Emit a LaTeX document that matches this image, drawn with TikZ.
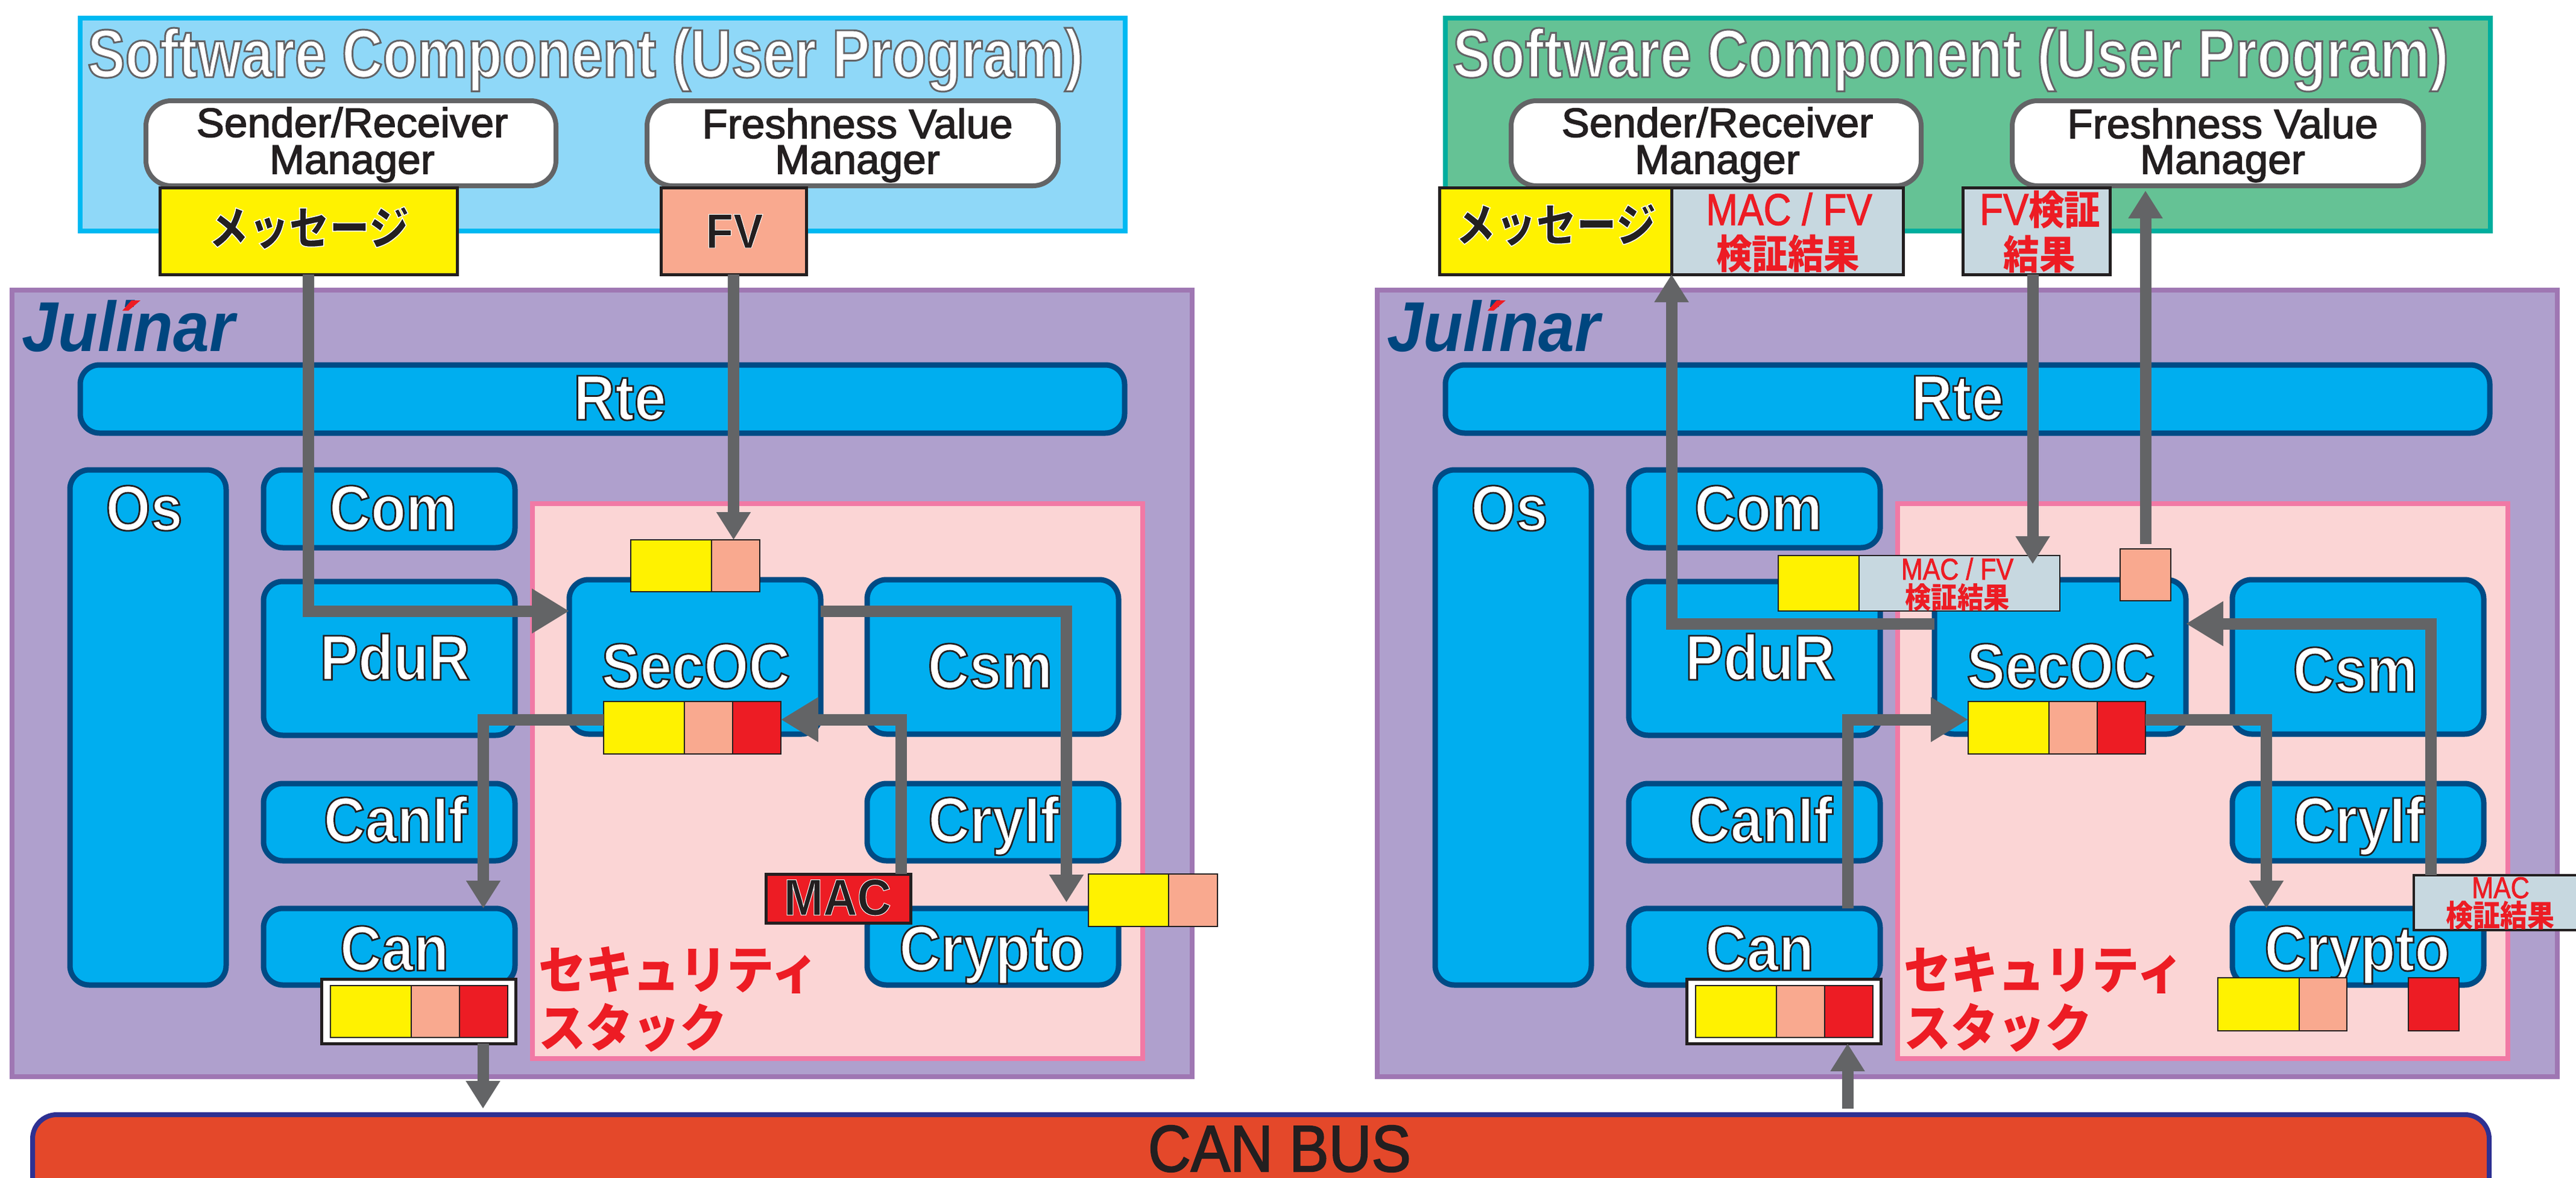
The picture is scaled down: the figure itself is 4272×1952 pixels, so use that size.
\documentclass[tikz,border=0pt]{standalone}
\usepackage{fontspec}
\usetikzlibrary{arrows.meta,calc}
\newfontfamily\sfo[FakeStretch=0.83,FakeBold=2.6]{Liberation Sans Bold}
\newfontfamily\sfmod[FakeStretch=0.9,FakeBold=2.6]{Liberation Sans Bold}
\newfontfamily\sfk[FakeStretch=0.92,FakeBold=1.2]{Liberation Sans Bold}
\newfontfamily\sfb[FakeStretch=1.02,FakeBold=2.2]{Liberation Sans}
\newfontfamily\sfbus[FakeStretch=0.9,FakeBold=2]{Liberation Sans}
\newfontfamily\sfr[FakeStretch=0.86,FakeBold=1.5]{Liberation Sans}
\newfontfamily\logof[FakeStretch=0.92]{Liberation Sans}
\newfontfamily\cjk[FakeStretch=0.9]{Noto Sans CJK JP}
\newfontfamily\cjks[FakeStretch=0.92]{Noto Sans CJK JP}
\newfontfamily\cjko[FakeStretch=0.88,FakeBold=2]{Noto Sans CJK JP}
\definecolor{swfillL}{HTML}{8FD8F8}
\definecolor{swlineL}{HTML}{00B9F2}
\definecolor{swfillR}{HTML}{65C295}
\definecolor{swlineR}{HTML}{00AE9E}
\definecolor{julfill}{HTML}{AFA0CD}
\definecolor{julline}{HTML}{9F77B3}
\definecolor{modfill}{HTML}{00AEEF}
\definecolor{modline}{HTML}{004B85}
\definecolor{secfill}{HTML}{FBD5D5}
\definecolor{secline}{HTML}{F179A5}
\definecolor{mgrline}{HTML}{636466}
\definecolor{ink}{HTML}{231F20}
\definecolor{msgy}{HTML}{FFF200}
\definecolor{fvs}{HTML}{F9A98F}
\definecolor{macr}{HTML}{ED1C24}
\definecolor{resg}{HTML}{C7D8E0}
\definecolor{busf}{HTML}{E4482A}
\definecolor{busl}{HTML}{2E3192}
\definecolor{logob}{HTML}{00467F}
\definecolor{arrowg}{HTML}{636466}
% outlined text: fill colour, stroke colour (rgb triples), text; the fake-bold fonts stroke their glyphs
\newcommand{\fs}[3]{\special{pdf:bcolor [#1] [#2]}#3\special{pdf:ecolor}}
\newcommand{\whitedark}[1]{\fs{1 1 1}{.137 .122 .125}{#1}}
\newcommand{\whitegrey}[1]{\fs{1 1 1}{.39 .39 .40}{#1}}
\newcommand{\darkwhite}[1]{\fs{.137 .122 .125}{1 1 1}{#1}}
\newcommand{\rbx}[6]{\node[#1,minimum width={((#5)-(#3))*1pt},minimum height={((#6)-(#4))*1pt}] (#2) at ({((#3)+(#5))/2},{((#4)+(#6))/2}) {};}
\tikzset{
  plainbox/.style={inner sep=0pt,outer sep=0pt,rectangle},
  swbox/.style={plainbox,draw=#1,line width=8pt},
  julbox/.style={plainbox,draw=julline,fill=julfill,line width=8pt},
  secbox/.style={plainbox,draw=secline,fill=secfill,line width=8pt},
  modbox/.style={plainbox,draw=modline,fill=modfill,line width=9pt,rounded corners=32pt},
  mgrbox/.style={plainbox,draw=mgrline,fill=white,line width=8pt,rounded corners=42pt},
  msgbox/.style={plainbox,draw=ink,line width=5pt},
  segbox/.style={plainbox,draw=ink,line width=2.5pt},
  txt/.style={inner sep=0pt,outer sep=0pt,anchor=base},
  mid/.style={inner sep=0pt,outer sep=0pt,anchor=center},
  modtxt/.style={txt,font=\sfmod\fontsize{106}{106}\selectfont},
  mgrtxt/.style={txt,text=ink,font=\sfb\fontsize{68}{68}\selectfont},
  arrowv/.style={draw=arrowg,line width=19pt,miter limit=10,-{Triangle[length=46pt,width=54pt]}},
  arrowh/.style={draw=arrowg,line width=19pt,miter limit=10,-{Triangle[length=62pt,width=70pt]}},
}
\newcommand{\mtxt}[4]{\node[modtxt] (#1) at (#2,#3) {\whitedark{#4}};}
\newcommand{\threeseg}[4]{% name, x, y1, y2 : standard three-colour message
 \rbx{segbox,fill=msgy}{#1a}{#2}{#3}{#2+134}{#4}
 \rbx{segbox,fill=fvs}{#1b}{#2+134}{#3}{#2+214}{#4}
 \rbx{segbox,fill=macr}{#1c}{#2+214}{#3}{#2+294}{#4}}
\newcommand{\panelbase}[3]{%
 \rbx{swbox=swline#1,fill=swfill#1}{sw#1}{133}{30}{1866}{383}
 \node[txt,font=\sfo\fontsize{113}{113}\selectfont] (title#1) at (971,128) {\whitegrey{Software Component (User Program)}};
 \rbx{mgrbox}{snd#1}{242}{167}{922}{308}
 \rbx{mgrbox}{fvm#1}{1073}{167}{1755}{308}
 \node[mgrtxt] (sndta#1) at (584,227) {Sender/Receiver};
 \node[mgrtxt] (sndtb#1) at (584,288) {Manager};
 \node[mgrtxt] (fvmta#1) at (1422,229) {Freshness Value};
 \node[mgrtxt] (fvmtb#1) at (1422,288) {Manager};
 \rbx{julbox}{jul#1}{20}{481}{1977}{1785}
 \node[txt,text=logob,font=\logof\bfseries\itshape\fontsize{117}{117}\selectfont] (logo#1) at (213,582) {Julinar};
 \fill[macr] (203,515) -- (218,498) -- (233,498) -- (213,515) -- cycle;
 \rbx{modbox}{rte#1}{133}{605}{1865}{718}
 \rbx{modbox}{os#1}{116}{779}{375}{1633}
 \rbx{modbox}{com#1}{437}{779}{854}{908}
 \rbx{modbox}{pdur#1}{437}{964}{854}{1219}
 \rbx{modbox}{canif#1}{437}{1299}{854}{1427}
 \rbx{modbox}{can#1}{437}{1506}{854}{1633}
 \rbx{secbox}{sec#1}{883}{835}{1895}{1755}
 \rbx{modbox}{secoc#1}{944}{961}{1361}{1217}
 \rbx{modbox}{csm#1}{1438}{961}{1855}{1217}
 \rbx{modbox}{cryif#1}{1438}{1299}{1855}{1427}
 \rbx{modbox}{crypto#1}{1438}{1506}{1855}{1633}
 \mtxt{rtet#1}{#2}{696}{Rte}
 \mtxt{ost#1}{239}{879}{Os}
 \mtxt{comt#1}{652}{879}{Com}
 \mtxt{pdurt#1}{655}{1127}{PduR}
 \mtxt{secoct#1}{1154}{1141}{SecOC}
 \mtxt{csmt#1}{1642}{#3}{Csm}
 \mtxt{caniftt#1}{656}{1396}{CanIf}
 \mtxt{cryift#1}{1648}{1396}{CryIf}
 \mtxt{cant#1}{654}{1609}{Can}
 \mtxt{cryptot#1}{1645}{1609}{Crypto}
 \node[mid,anchor=west,text=macr,font=\cjks\bfseries\fontsize{85}{85}\selectfont] (stka#1) at (893,1608) {セキュリティ};
 \node[mid,anchor=west,text=macr,font=\cjks\bfseries\fontsize{85}{85}\selectfont] (stkb#1) at (893,1704) {スタック};
 \rbx{plainbox,draw=ink,line width=5pt,fill=white}{canbx#1}{533}{1623}{855}{1730}
 \threeseg{cs#1}{548}{1634}{1720}
}
\begin{document}
\begin{tikzpicture}[x=1pt,y=-1pt]
\path[use as bounding box,clip] (0,0) rectangle (4272,1952);
\fill[white] (0,0) rectangle (4272,1952);
% ---------- left panel
\begin{scope}
\panelbase{L}{1028}{1141}
\rbx{msgbox,fill=msgy}{msgL}{265}{311}{758}{455}
\node[mid,font=\cjko\bfseries\fontsize{76}{76}\selectfont] (msgtL) at (512,378) {\darkwhite{メッセージ}};
\rbx{msgbox,fill=fvs}{fvL}{1096}{311}{1337}{455}
\node[txt,text=ink,font=\sfk\fontsize{81}{81}\selectfont] (fvtL) at (1218,411) {\darkwhite{FV}};
\rbx{segbox,fill=msgy}{tsaL}{1046}{895}{1180}{981}
\rbx{segbox,fill=fvs}{tsbL}{1180}{895}{1260}{981}
\threeseg{msL}{1001}{1163}{1250}
\rbx{msgbox,fill=macr}{macL}{1270}{1449}{1510}{1530}
\node[txt,font=\sfk\fontsize{85}{85}\selectfont] (mactL) at (1389,1517) {\darkwhite{MAC}};
\rbx{segbox,fill=msgy}{oaL}{1805}{1449}{1938}{1536}
\rbx{segbox,fill=fvs}{obL}{1938}{1449}{2019}{1536}
\coordinate (gapbusL) at (801,1838);
\draw[arrowh] (msgL.south) |- ([yshift=76pt]secocL.west);
\draw[arrowv] (fvL.south) -- (fvL.south |- tsbL.north);
\draw[arrowv] ([yshift=13.5pt]msLa.west) -| ([xshift=156pt]canL.north);
\draw[arrowh] ([xshift=-16pt]macL.north east) |- ([yshift=13.5pt]msLc.east);
\draw[arrowv] ([yshift=76pt]secocL.east) -| ([xshift=122pt,yshift=10pt]cryptoL.north);
\draw[arrowv] (canbxL.south -| gapbusL) -- (gapbusL);
\end{scope}
% ---------- right panel
\begin{scope}[xshift=2264pt]
\panelbase{R}{982}{1147}
\threeseg{msR}{1000}{1163}{1250}
\rbx{segbox,fill=msgy}{oaR}{1414}{1621}{1549}{1709}
\rbx{segbox,fill=fvs}{obR}{1549}{1621}{1628}{1709}
\rbx{segbox,fill=macr}{ocR}{1730}{1621}{1814}{1709}
\rbx{msgbox,fill=msgy}{msgR}{123}{311}{508}{455}
\rbx{msgbox,fill=resg}{resR}{508}{311}{892}{455}
\node[mid,font=\cjko\bfseries\fontsize{76}{76}\selectfont] (msgtR) at (316,373) {\darkwhite{メッセージ}};
\node[txt,text=macr,font=\sfr\fontsize{74}{74}\selectfont] (restaR) at (703,373) {MAC / FV};
\node[mid,text=macr,font=\cjk\bfseries\fontsize{66}{66}\selectfont] (restbR) at (701,421) {検証結果};
\rbx{msgbox,fill=resg}{fvrR}{991}{311}{1235}{455}
\node[mid,font=\sfr\fontsize{74}{74}\selectfont,text=macr] (fvrtaR) at (1119,348) {FV{\cjk\bfseries\fontsize{66}{66}\selectfont 検証}};
\node[mid,text=macr,font=\cjk\bfseries\fontsize{66}{66}\selectfont] (fvrtbR) at (1118,421) {結果};
\rbx{segbox,fill=msgy}{tsaR}{685}{921}{819}{1013}
\rbx{segbox,fill=resg}{tsbR}{819}{921}{1152}{1013}
\node[txt,text=macr,font=\sfr\fontsize{50}{50}\selectfont] (tstaR) at (982,961) {MAC / FV};
\node[mid,text=macr,font=\cjk\bfseries\fontsize{48}{48}\selectfont] (tstbR) at (982,990) {検証結果};
\rbx{segbox,fill=fvs}{tssR}{1252}{910}{1336}{996}
\rbx{plainbox,draw=ink,line width=3.5pt,fill=resg}{mvR}{1739}{1451}{2040}{1542}
\node[txt,text=macr,font=\sfr\fontsize{50}{50}\selectfont] (mvtaR) at (1883,1489) {MAC};
\node[mid,text=macr,font=\cjk\bfseries\fontsize{50}{50}\selectfont] (mvtbR) at (1882,1518) {検証結果};
\coordinate (gapbusR) at (800,1838);
\coordinate (fvtipR) at (1107,935);
\draw[arrowv] ([yshift=55pt]secocR.west) -| (msgR.south east);
\draw[arrowv] (fvrR.south -| fvtipR) -- (fvtipR);
\draw[arrowv,shorten <=8pt,shorten >=8pt] (tssR.north) -- (tssR.north |- fvmR.south);
\draw[arrowh] ([xshift=-122pt]mvR.north) |- ([yshift=55pt]secocR.east);
\draw[arrowh] ([xshift=155pt]canR.north) |- ([yshift=13.5pt]msRa.west);
\draw[arrowv] ([yshift=13.5pt]msRc.east) -| ([xshift=-152pt]cryptoR.north);
\draw[arrowv] (gapbusR) -- (gapbusR |- canbxR.south);
\end{scope}
% ---------- bus
\rbx{plainbox,draw=busl,fill=busf,line width=8pt,rounded corners=40pt}{bus}{54}{1848}{4128}{2040}
\node[txt,text=ink,font=\sfbus\fontsize{109}{109}\selectfont] (bustxt) at (2122,1942) {CAN BUS};
\end{tikzpicture}
\end{document}
